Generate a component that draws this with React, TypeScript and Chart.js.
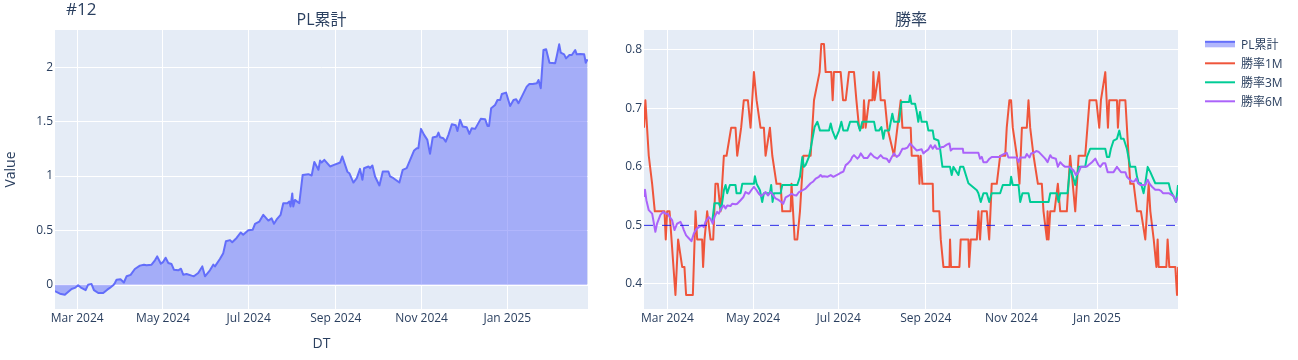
import React, { useEffect, useRef } from "react";
import { Chart, registerables } from "chart.js";

Chart.register(...registerables);

const FONT = '"Open Sans", "Noto Sans CJK JP", verdana, arial, sans-serif';
const TEXT_COLOR = "#2a3f5f";
const PLOT_BG = "#E5ECF6";

const TITLE = "#12";
const LEFT_TITLE = "PL累計";
const RIGHT_TITLE = "勝率";
const X_TITLE = "DT";
const Y_TITLE = "Value";

// x values are days counted from 2024-01-01
const TICK_DAYS = [60, 121, 182, 244, 305, 366];
const TICK_LABELS = ["Mar 2024", "May 2024", "Jul 2024", "Sep 2024", "Nov 2024", "Jan 2025"];
const PL_TICKS = [0, 0.5, 1, 1.5, 2];
const RATE_TICKS = [0.4, 0.5, 0.6, 0.7, 0.8];
const BASELINE_RATE = 0.5;

const SERIES_NAMES = ["PL累計", "勝率1M", "勝率3M", "勝率6M"];
const SERIES_COLORS = ["#636EFA", "#EF553B", "#00CC96", "#AB63FA"];

const PL_CUM: [number, number][] = [
  [44.1, -0.06], [47.7, -0.083], [51.2, -0.092], [56.0, -0.04], [58.3, -0.03], [60.7, -0.006], [63.0, -0.03],
  [66.0, -0.05], [67.8, 0.0], [70.2, 0.006], [71.9, -0.05], [75.0, -0.077], [78.5, -0.077], [81.4, -0.046],
  [83.2, -0.03], [85.6, -0.006], [86.8, 0.015], [88.0, 0.046], [90.8, 0.05], [93.2, 0.02], [95.1, 0.077],
  [98.0, 0.09], [101.0, 0.144], [104.6, 0.175], [107.5, 0.184], [109.3, 0.178], [112.9, 0.184], [115.3, 0.224],
  [116.9, 0.26], [119.5, 0.193], [121.2, 0.21], [122.9, 0.248], [124.8, 0.2], [127.1, 0.19], [128.8, 0.138],
  [131.9, 0.132], [133.8, 0.147], [135.4, 0.092], [137.8, 0.098], [141.4, 0.083], [143.0, 0.077], [146.1, 0.107],
  [149.0, 0.168], [150.9, 0.077], [154.4, 0.132], [156.8, 0.184], [158.0, 0.168], [161.5, 0.236], [163.9, 0.29],
  [165.8, 0.4], [168.7, 0.41], [170.3, 0.39], [173.4, 0.43], [176.3, 0.48], [178.1, 0.46], [181.7, 0.5],
  [184.8, 0.505], [186.5, 0.56], [189.5, 0.58], [192.4, 0.643], [196.0, 0.59], [198.3, 0.61], [200.0, 0.56],
  [201.9, 0.6], [204.7, 0.643], [206.6, 0.75], [209.5, 0.75], [210.9, 0.766], [211.8, 0.72], [213.0, 0.84],
  [213.7, 0.72], [214.9, 0.78], [218.0, 0.75], [220.4, 1.01], [224.4, 1.017], [226.8, 1.005], [228.7, 1.13],
  [231.6, 1.057], [232.8, 1.143], [233.9, 1.124], [235.8, 1.149], [239.9, 1.088], [242.7, 1.103], [245.8, 1.118],
  [247.0, 1.124], [248.6, 1.18], [252.2, 1.04], [253.6, 1.026], [256.5, 0.94], [258.9, 0.98], [261.2, 1.066],
  [262.9, 0.965], [264.1, 1.072], [267.2, 1.088], [268.3, 1.072], [270.0, 1.097], [271.9, 0.996], [275.0, 0.913],
  [277.4, 1.042], [281.4, 1.042], [282.6, 0.996], [285.0, 0.98], [289.2, 0.94], [291.6, 1.057], [294.4, 1.072],
  [299.7, 1.235], [301.6, 1.256], [302.7, 1.256], [304.6, 1.434], [306.8, 1.379], [309.1, 1.333], [311.0, 1.204],
  [312.9, 1.354], [315.8, 1.363], [317.0, 1.4], [318.2, 1.357], [320.5, 1.348], [322.2, 1.317], [324.1, 1.379],
  [326.5, 1.477], [329.3, 1.468], [330.5, 1.415], [332.4, 1.517], [334.3, 1.455], [337.1, 1.449], [339.0, 1.388],
  [340.7, 1.44], [343.1, 1.434], [347.1, 1.526], [350.2, 1.523], [351.9, 1.461], [353.0, 1.461], [354.5, 1.624],
  [357.3, 1.654], [359.0, 1.7], [360.9, 1.7], [362.1, 1.755], [365.1, 1.768], [368.0, 1.645], [370.4, 1.7],
  [372.3, 1.706], [373.9, 1.67], [376.3, 1.731], [379.8, 1.823], [381.7, 1.847], [384.1, 1.847], [387.0, 1.854],
  [388.2, 1.884], [389.8, 1.808], [391.7, 2.16], [393.6, 2.166], [396.0, 2.043], [400.0, 2.037], [401.2, 2.105],
  [402.9, 2.212], [404.0, 2.135], [406.4, 2.12], [407.8, 2.083], [410.2, 2.114], [411.9, 2.114], [414.3, 2.16],
  [415.4, 2.12], [417.8, 2.123], [420.7, 2.12], [421.8, 2.043], [423.0, 2.074],
];

const RATE_1M: [number, number][] = [
  [43.3, 0.667], [44.3, 0.714], [46.7, 0.619], [49.1, 0.571], [51.0, 0.524], [57.9, 0.524], [58.8, 0.476],
  [59.8, 0.524], [61.5, 0.524], [65.7, 0.381], [67.6, 0.476], [70.5, 0.429], [72.1, 0.429], [73.3, 0.381],
  [78.1, 0.381], [80.0, 0.524], [81.2, 0.476], [84.7, 0.476], [85.4, 0.429], [86.4, 0.476], [88.3, 0.524],
  [90.7, 0.476], [92.6, 0.476], [94.2, 0.571], [95.9, 0.571], [97.8, 0.524], [100.2, 0.619], [102.1, 0.619],
  [105.4, 0.667], [108.5, 0.667], [109.7, 0.619], [112.5, 0.667], [114.4, 0.714], [117.3, 0.714], [119.2, 0.667],
  [121.6, 0.762], [123.5, 0.714], [126.3, 0.667], [128.7, 0.667], [129.9, 0.619], [133.0, 0.667], [134.7, 0.619],
  [137.7, 0.571], [140.6, 0.571], [141.8, 0.524], [147.7, 0.524], [148.4, 0.571], [150.6, 0.476], [152.5, 0.476],
  [154.4, 0.524], [156.8, 0.619], [162.0, 0.619], [164.4, 0.714], [168.4, 0.762], [169.6, 0.81], [171.5, 0.81],
  [172.7, 0.762], [176.7, 0.762], [177.7, 0.714], [178.6, 0.762], [183.4, 0.762], [185.1, 0.714], [187.0, 0.714],
  [189.3, 0.762], [192.9, 0.762], [194.6, 0.714], [196.5, 0.667], [199.3, 0.667], [200.0, 0.714], [201.2, 0.667],
  [203.6, 0.714], [206.0, 0.714], [206.7, 0.762], [207.6, 0.714], [210.7, 0.762], [211.9, 0.714], [214.8, 0.714],
  [216.7, 0.667], [221.4, 0.619], [223.8, 0.667], [226.2, 0.714], [227.4, 0.667], [233.3, 0.667], [234.0, 0.619],
  [238.7, 0.619], [239.5, 0.571], [240.4, 0.619], [241.6, 0.571], [249.0, 0.571], [249.4, 0.524], [253.7, 0.524],
  [254.7, 0.476], [256.6, 0.429], [260.9, 0.429], [261.3, 0.476], [262.0, 0.429], [268.0, 0.429], [268.9, 0.476],
  [274.4, 0.476], [274.9, 0.429], [276.1, 0.476], [280.4, 0.476], [281.5, 0.524], [282.7, 0.476], [283.9, 0.524],
  [287.5, 0.524], [289.2, 0.476], [291.0, 0.571], [294.6, 0.571], [297.0, 0.619], [300.6, 0.619], [301.7, 0.667],
  [303.6, 0.714], [304.8, 0.714], [306.0, 0.667], [308.9, 0.619], [310.8, 0.571], [312.5, 0.667], [316.0, 0.667],
  [317.2, 0.714], [318.4, 0.667], [320.8, 0.619], [323.9, 0.571], [326.7, 0.571], [327.9, 0.524], [330.3, 0.476],
  [330.8, 0.524], [331.5, 0.476], [332.7, 0.524], [335.7, 0.524], [338.1, 0.571], [339.8, 0.524], [344.5, 0.524],
  [346.9, 0.619], [350.5, 0.524], [352.9, 0.619], [357.6, 0.619], [360.7, 0.714], [365.5, 0.714], [367.6, 0.667],
  [368.8, 0.714], [371.9, 0.762], [373.8, 0.667], [374.7, 0.714], [380.2, 0.714], [380.9, 0.667], [382.1, 0.714],
  [386.2, 0.714], [388.5, 0.619], [389.7, 0.571], [392.1, 0.571], [394.5, 0.524], [397.3, 0.524], [400.4, 0.476],
  [402.8, 0.571], [404.0, 0.524], [406.4, 0.476], [408.3, 0.429], [409.2, 0.476], [409.9, 0.429], [415.4, 0.429],
  [416.3, 0.476], [417.5, 0.429], [421.8, 0.429], [423.0, 0.381], [423.8, 0.429],
];

const RATE_3M: [number, number][] = [
  [91.9, 0.506], [93.5, 0.538], [96.6, 0.538], [98.3, 0.527], [100.2, 0.56], [101.4, 0.569], [102.6, 0.555],
  [104.5, 0.569], [108.5, 0.569], [109.2, 0.555], [112.1, 0.555], [113.3, 0.571], [121.6, 0.571], [122.3, 0.584],
  [123.5, 0.571], [125.9, 0.56], [127.5, 0.54], [128.7, 0.555], [133.0, 0.555], [133.9, 0.569], [134.9, 0.54],
  [135.8, 0.555], [140.6, 0.555], [141.8, 0.569], [152.5, 0.569], [154.4, 0.583], [156.1, 0.617], [157.2, 0.6],
  [158.4, 0.603], [160.8, 0.617], [162.0, 0.631], [164.8, 0.668], [166.8, 0.677], [168.7, 0.662], [175.1, 0.662],
  [176.3, 0.674], [177.5, 0.662], [179.8, 0.648], [182.2, 0.662], [183.9, 0.677], [185.3, 0.662], [188.2, 0.662],
  [190.1, 0.677], [195.3, 0.677], [197.2, 0.662], [198.8, 0.677], [207.2, 0.677], [208.4, 0.662], [210.7, 0.662],
  [212.4, 0.668], [213.8, 0.648], [214.8, 0.662], [217.9, 0.662], [220.2, 0.691], [221.4, 0.677], [225.0, 0.677],
  [226.7, 0.711], [232.1, 0.711], [232.8, 0.722], [233.8, 0.708], [236.4, 0.708], [237.6, 0.694], [238.7, 0.677],
  [239.9, 0.694], [241.1, 0.677], [244.7, 0.677], [245.9, 0.662], [249.0, 0.662], [249.9, 0.648], [253.0, 0.645],
  [254.2, 0.631], [255.9, 0.6], [261.3, 0.6], [262.5, 0.586], [263.7, 0.6], [267.3, 0.586], [268.5, 0.6],
  [270.8, 0.6], [274.4, 0.572], [280.4, 0.56], [281.5, 0.555], [283.2, 0.54], [285.1, 0.555], [287.5, 0.555],
  [289.2, 0.54], [291.0, 0.555], [297.0, 0.555], [298.9, 0.569], [304.1, 0.569], [304.8, 0.583], [306.0, 0.569],
  [310.1, 0.569], [311.3, 0.54], [312.9, 0.555], [317.2, 0.555], [318.4, 0.54], [331.5, 0.54], [332.7, 0.555],
  [337.4, 0.555], [338.6, 0.54], [339.8, 0.555], [345.0, 0.555], [346.9, 0.6], [350.5, 0.569], [352.9, 0.6],
  [357.6, 0.6], [358.8, 0.617], [361.2, 0.631], [371.9, 0.631], [373.1, 0.617], [374.7, 0.617], [375.9, 0.631],
  [377.8, 0.645], [380.2, 0.648], [381.9, 0.662], [383.1, 0.648], [385.0, 0.648], [387.3, 0.631], [389.7, 0.6],
  [393.3, 0.6], [394.5, 0.583], [395.7, 0.572], [397.3, 0.572], [399.2, 0.555], [400.4, 0.572], [402.1, 0.6],
  [404.0, 0.591], [407.5, 0.572], [417.1, 0.572], [418.3, 0.56], [420.6, 0.549], [422.3, 0.54], [423.7, 0.569],
];

const RATE_6M: [number, number][] = [
  [43.3, 0.55], [44.0, 0.561], [45.0, 0.543], [46.7, 0.526], [49.1, 0.52], [51.4, 0.489], [52.6, 0.503],
  [55.0, 0.518], [56.9, 0.523], [58.6, 0.52], [60.2, 0.52], [61.7, 0.514], [63.3, 0.509], [65.0, 0.492],
  [66.9, 0.503], [69.3, 0.506], [70.5, 0.5], [71.7, 0.492], [73.3, 0.483], [75.2, 0.478], [77.1, 0.473],
  [78.8, 0.486], [80.7, 0.494], [82.3, 0.497], [84.7, 0.5], [85.9, 0.497], [87.1, 0.506], [89.5, 0.514],
  [90.7, 0.511], [92.3, 0.503], [93.5, 0.514], [95.4, 0.523], [96.6, 0.52], [98.3, 0.529], [100.2, 0.534],
  [101.4, 0.529], [102.6, 0.534], [104.9, 0.533], [106.1, 0.537], [108.5, 0.536], [109.7, 0.537], [112.1, 0.543],
  [114.0, 0.548], [115.6, 0.557], [118.0, 0.554], [119.7, 0.56], [121.6, 0.566], [123.5, 0.56], [125.1, 0.554],
  [126.8, 0.55], [128.7, 0.554], [129.9, 0.557], [131.6, 0.551], [133.5, 0.557], [135.4, 0.551], [137.0, 0.546],
  [139.4, 0.543], [141.1, 0.54], [142.5, 0.537], [144.2, 0.548], [146.5, 0.551], [148.4, 0.554], [150.1, 0.552],
  [151.8, 0.551], [153.7, 0.557], [156.1, 0.56], [158.4, 0.563], [159.6, 0.566], [162.0, 0.572], [163.9, 0.575],
  [165.6, 0.58], [167.9, 0.583], [169.1, 0.586], [170.3, 0.583], [171.5, 0.584], [173.9, 0.583], [176.3, 0.586],
  [178.2, 0.583], [180.5, 0.586], [182.2, 0.588], [183.4, 0.59], [185.3, 0.592], [187.0, 0.603], [188.6, 0.606],
  [190.5, 0.611], [191.7, 0.617], [192.9, 0.62], [195.3, 0.614], [196.5, 0.617], [197.7, 0.623], [200.0, 0.615],
  [202.4, 0.615], [204.8, 0.623], [207.2, 0.617], [209.6, 0.614], [211.9, 0.62], [213.8, 0.615], [216.2, 0.614],
  [217.9, 0.608], [219.8, 0.617], [221.4, 0.623], [223.3, 0.617], [225.0, 0.62], [227.4, 0.631], [229.0, 0.631],
  [231.0, 0.633], [232.8, 0.64], [235.2, 0.634], [237.6, 0.628], [241.1, 0.63], [242.3, 0.623], [244.2, 0.627],
  [245.9, 0.63], [247.5, 0.637], [249.0, 0.631], [250.6, 0.637], [251.8, 0.631], [253.7, 0.631], [255.4, 0.634],
  [256.6, 0.634], [259.0, 0.638], [260.9, 0.64], [261.8, 0.628], [263.2, 0.631], [270.4, 0.631], [270.8, 0.624],
  [281.5, 0.624], [282.7, 0.614], [283.9, 0.617], [285.1, 0.608], [287.5, 0.608], [289.4, 0.614], [291.0, 0.617],
  [297.0, 0.617], [298.2, 0.62], [300.6, 0.623], [301.7, 0.624], [302.9, 0.616], [308.9, 0.616], [310.1, 0.608],
  [311.3, 0.616], [314.8, 0.616], [316.0, 0.622], [317.9, 0.616], [319.1, 0.623], [320.8, 0.624], [322.7, 0.627],
  [324.3, 0.626], [326.7, 0.62], [329.1, 0.614], [330.8, 0.608], [332.7, 0.62], [333.8, 0.616], [336.7, 0.614],
  [338.1, 0.6], [339.8, 0.608], [341.7, 0.603], [343.4, 0.6], [346.4, 0.6], [347.6, 0.597], [349.3, 0.594],
  [351.0, 0.586], [352.9, 0.591], [354.5, 0.6], [358.3, 0.6], [360.0, 0.603], [362.4, 0.608], [364.8, 0.614],
  [366.0, 0.608], [367.1, 0.603], [368.3, 0.6], [370.2, 0.606], [371.9, 0.606], [373.6, 0.591], [377.8, 0.591],
  [380.2, 0.6], [382.1, 0.594], [383.1, 0.591], [386.2, 0.591], [387.3, 0.583], [388.5, 0.58], [390.9, 0.575],
  [392.6, 0.575], [394.0, 0.58], [395.2, 0.572], [396.9, 0.569], [400.4, 0.569], [402.1, 0.578], [403.5, 0.571],
  [405.2, 0.566], [407.5, 0.561], [409.9, 0.561], [411.6, 0.559], [413.0, 0.555], [417.1, 0.555], [420.6, 0.55],
  [422.3, 0.54], [423.7, 0.549],
];

const toXY = (arr: [number, number][]) => arr.map(([x, y]) => ({ x, y }));

function xAxis(min: number, max: number) {
  return {
    type: "linear" as const,
    min,
    max,
    afterBuildTicks: (s: any) => {
      s.ticks = TICK_DAYS.map((value) => ({ value }));
    },
    afterFit: (s: any) => {
      s.height = 51;
    },
    ticks: {
      autoSkip: false,
      maxRotation: 0,
      minRotation: 0,
      padding: 2,
      color: TEXT_COLOR,
      font: { family: FONT, size: 12 },
      callback: (v: any) => {
        const i = TICK_DAYS.indexOf(Number(v));
        return i >= 0 ? TICK_LABELS[i] : "";
      },
    },
    grid: { color: "#ffffff", lineWidth: 1, drawTicks: false },
    border: { display: false },
  };
}

function yAxis(min: number, max: number, ticks: number[], width: number, fmt: (v: number) => string) {
  return {
    type: "linear" as const,
    min,
    max,
    afterBuildTicks: (s: any) => {
      s.ticks = ticks.map((value) => ({ value }));
    },
    afterFit: (s: any) => {
      s.width = width;
    },
    ticks: {
      autoSkip: false,
      padding: 2,
      color: TEXT_COLOR,
      font: { family: FONT, size: 12 },
      callback: (v: any) => fmt(Number(v)),
    },
    grid: {
      color: "#ffffff",
      lineWidth: (c: any) => (c.tick && c.tick.value === 0 ? 2 : 1),
      drawTicks: false,
    },
    border: { display: false },
  };
}

const bgPlugin = {
  id: "plotBg",
  beforeDraw(chart: any) {
    const { ctx, chartArea } = chart;
    ctx.save();
    ctx.fillStyle = PLOT_BG;
    ctx.fillRect(chartArea.left, chartArea.top, chartArea.right - chartArea.left, chartArea.bottom - chartArea.top);
    ctx.restore();
  },
};

const leftTextPlugin = {
  id: "leftText",
  afterDraw(chart: any) {
    const { ctx, chartArea } = chart;
    const cx = (chartArea.left + chartArea.right) / 2;
    ctx.save();
    ctx.fillStyle = TEXT_COLOR;
    ctx.textBaseline = "alphabetic";
    ctx.font = `17px ${FONT}`;
    ctx.textAlign = "left";
    ctx.fillText(TITLE, 66, 15);
    ctx.textAlign = "center";
    ctx.font = `16px ${FONT}`;
    ctx.fillText(LEFT_TITLE, cx, 24.5);
    ctx.font = `14px ${FONT}`;
    ctx.fillText(X_TITLE, cx, 348);
    ctx.translate(15, (chartArea.top + chartArea.bottom) / 2);
    ctx.rotate(-Math.PI / 2);
    ctx.fillText(Y_TITLE, 0, 0);
    ctx.restore();
  },
};

const rightTextPlugin = {
  id: "rightText",
  afterDraw(chart: any) {
    const { ctx, chartArea } = chart;
    const cx = (chartArea.left + chartArea.right) / 2;
    ctx.save();
    ctx.fillStyle = TEXT_COLOR;
    ctx.textBaseline = "alphabetic";
    ctx.textAlign = "center";
    ctx.font = `16px ${FONT}`;
    ctx.fillText(RIGHT_TITLE, cx, 24.5);
    // legend
    const x0 = 605;
    const x1 = 635;
    const rowY = [44.3, 63.3, 82.3, 101.3];
    ctx.textAlign = "left";
    ctx.font = `12px ${FONT}`;
    SERIES_NAMES.forEach((name, i) => {
      const y = rowY[i];
      if (i === 0) {
        ctx.fillStyle = "rgba(99,110,250,0.5)";
        ctx.fillRect(x0, y - 3, x1 - x0, 6);
        ctx.strokeStyle = SERIES_COLORS[0];
        ctx.lineWidth = 2;
        ctx.beginPath();
        ctx.moveTo(x0, y - 2.5);
        ctx.lineTo(x1, y - 2.5);
        ctx.stroke();
      } else {
        ctx.strokeStyle = SERIES_COLORS[i];
        ctx.lineWidth = 2;
        ctx.beginPath();
        ctx.moveTo(x0, y);
        ctx.lineTo(x1, y);
        ctx.stroke();
      }
      ctx.fillStyle = TEXT_COLOR;
      ctx.fillText(name, 641, y + 4.3);
    });
    ctx.restore();
  },
};

export default function App() {
  const leftRef = useRef<HTMLCanvasElement>(null);
  const rightRef = useRef<HTMLCanvasElement>(null);

  useEffect(() => {
    Chart.defaults.font.family = FONT;
    const lineBase = {
      pointRadius: 0,
      pointHoverRadius: 0,
      tension: 0,
      borderWidth: 2,
      borderJoinStyle: "round" as const,
    };

    const left = new Chart(leftRef.current as HTMLCanvasElement, {
      type: "line",
      data: {
        datasets: [
          {
            ...lineBase,
            label: SERIES_NAMES[0],
            data: toXY(PL_CUM),
            borderColor: SERIES_COLORS[0],
            backgroundColor: "rgba(99,110,250,0.5)",
            fill: "origin",
          },
        ],
      },
      options: {
        responsive: false,
        animation: false,
        events: [],
        layout: { padding: { left: 0, top: 30, right: 12, bottom: 0 } },
        plugins: { legend: { display: false }, tooltip: { enabled: false }, title: { display: false } },
        scales: {
          x: xAxis(44.2, 423.4),
          y: yAxis(-0.224, 2.344, PL_TICKS, 55, (v) => String(v)),
        },
      } as any,
      plugins: [bgPlugin, leftTextPlugin],
    });

    const right = new Chart(rightRef.current as HTMLCanvasElement, {
      type: "line",
      data: {
        datasets: [
          {
            ...lineBase,
            label: "baseline",
            data: [
              { x: 43.3, y: BASELINE_RATE },
              { x: 423.7, y: BASELINE_RATE },
            ],
            borderColor: "rgba(20,20,230,0.9)",
            borderWidth: 1,
            borderDash: [9, 9],
            fill: false,
          },
          { ...lineBase, label: SERIES_NAMES[3], data: toXY(RATE_6M), borderColor: SERIES_COLORS[3], fill: false },
          { ...lineBase, label: SERIES_NAMES[2], data: toXY(RATE_3M), borderColor: SERIES_COLORS[2], fill: false },
          { ...lineBase, label: SERIES_NAMES[1], data: toXY(RATE_1M), borderColor: SERIES_COLORS[1], fill: false },
        ],
      },
      options: {
        responsive: false,
        animation: false,
        events: [],
        layout: { padding: { left: 0, top: 30, right: 120, bottom: 0 } },
        plugins: { legend: { display: false }, tooltip: { enabled: false }, title: { display: false } },
        scales: {
          x: xAxis(43.3, 423.7),
          y: yAxis(0.357, 0.834, RATE_TICKS, 44, (v) => v.toFixed(1)),
        },
      } as any,
      plugins: [bgPlugin, rightTextPlugin],
    });

    return () => {
      left.destroy();
      right.destroy();
    };
  }, []);

  return (
    <div style={{ position: "fixed", left: 0, top: 0, width: 1298, height: 360, background: "#ffffff" }}>
      <canvas ref={leftRef} width={600} height={360} style={{ position: "absolute", left: 0, top: 0 }} />
      <canvas ref={rightRef} width={698} height={360} style={{ position: "absolute", left: 600, top: 0 }} />
    </div>
  );
}
